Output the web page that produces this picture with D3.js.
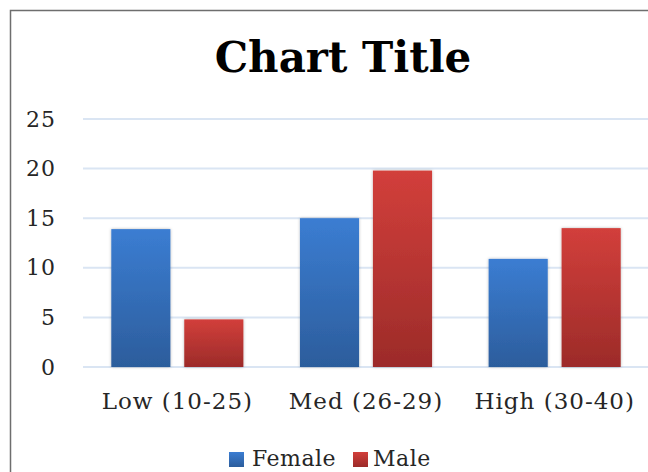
<!DOCTYPE html>
<html>
<head>
<meta charset="utf-8">
<script src="https://cdn.jsdelivr.net/npm/d3@7"></script>
<style>
  html, body { margin: 0; padding: 0; background: #fff; overflow: hidden; }
  svg { display: block; }
  text { font-family: "DejaVu Serif", serif; fill: #262626; }
</style>
</head>
<body>
<svg id="chart" width="648" height="472"></svg>
<script>
// Chart data
const categories = ["Low (10-25)", "Med (26-29)", "High (30-40)"];
const seriesNames = ["Female", "Male"];
const femaleValues = [13.9, 15, 10.9];
const maleValues = [4.8, 19.8, 14];
const yTicks = [0, 5, 10, 15, 20, 25];
const title = "Chart Title";

const seriesValues = { Female: femaleValues, Male: maleValues };
const rows = categories.map((c, i) => ({
  category: c,
  values: seriesNames.map(s => ({ series: s, value: seriesValues[s][i] }))
}));

const svg = d3.select("#chart");
const W = 648, H = 472;
const plot = { left: 83, right: 649, top: 119, bottom: 367 };

// Gradients for the bars
const defs = svg.append("defs");
const grads = {
  Female: ["#3b7dd2", "#2c5d9c"],
  Male: ["#d23f3b", "#9c2b29"]
};
Object.entries(grads).forEach(([k, [top, bot]]) => {
  const g = defs.append("linearGradient")
    .attr("id", "grad-" + k).attr("x1", 0).attr("y1", 0).attr("x2", 0).attr("y2", 1);
  g.append("stop").attr("offset", "0%").attr("stop-color", top);
  g.append("stop").attr("offset", "100%").attr("stop-color", bot);
});
const shadow = defs.append("filter").attr("id", "barShadow")
  .attr("x", "-20%").attr("y", "-5%").attr("width", "140%").attr("height", "110%");
shadow.append("feDropShadow").attr("dx", 0).attr("dy", 0).attr("stdDeviation", 1.6)
  .attr("flood-color", "#000").attr("flood-opacity", 0.28);

// Outer chart border
svg.append("rect")
  .attr("x", 10.5).attr("y", 10.5).attr("width", W + 20).attr("height", H + 20)
  .attr("fill", "#fff").attr("stroke", "#6e6e6e").attr("stroke-width", 1.5);

// Title
svg.append("text")
  .attr("x", 343).attr("y", 72)
  .attr("text-anchor", "middle")
  .style("font-size", "42px").style("font-weight", "bold")
  .style("fill", "#000")
  .text(title);

// Scales
const y = d3.scaleLinear().domain([0, 25]).range([plot.bottom, plot.top]);
const x0 = d3.scaleBand().domain(categories).range([plot.left, plot.right])
  .paddingInner(0.3).paddingOuter(0.15);
const x1 = d3.scaleBand().domain(seriesNames).range([0, x0.bandwidth()])
  .paddingInner(0.19).paddingOuter(0);

// Gridlines
svg.append("g")
  .selectAll("line").data(yTicks).join("line")
  .attr("x1", plot.left).attr("x2", W)
  .attr("y1", d => y(d)).attr("y2", d => y(d))
  .attr("stroke", "#dae5f3").attr("stroke-width", 2);

// Y axis labels
const yAxis = svg.append("g")
  .attr("transform", `translate(${plot.left - 27},0)`)
  .call(d3.axisLeft(y).tickValues(yTicks).tickSize(0).tickPadding(0));
yAxis.select(".domain").remove();
yAxis.selectAll("text")
  .style("font-family", "DejaVu Serif, serif")
  .style("font-size", "22px").style("letter-spacing", "1px").attr("fill", "#262626");

// Bars
const groups = svg.append("g").selectAll("g").data(rows).join("g")
  .attr("transform", d => `translate(${x0(d.category)},0)`);
groups.selectAll("rect").data(d => d.values).join("rect")
  .attr("x", d => x1(d.series))
  .attr("y", d => y(d.value))
  .attr("width", x1.bandwidth())
  .attr("height", d => y(0) - y(d.value))
  .attr("fill", d => `url(#grad-${d.series})`)
  .attr("filter", "url(#barShadow)");

// X axis labels
const xAxis = svg.append("g")
  .attr("transform", `translate(0,${plot.bottom + 14})`)
  .call(d3.axisBottom(x0).tickSize(0).tickPadding(12));
xAxis.select(".domain").remove();
xAxis.selectAll("text")
  .style("font-family", "DejaVu Serif, serif")
  .style("font-size", "23px").style("letter-spacing", "1px").attr("fill", "#262626");

// Legend
const legendItems = [
  { name: "Female", swatchX: 229, textX: 252 },
  { name: "Male", swatchX: 353, textX: 373 }
];
const legend = svg.append("g");
legendItems.forEach(it => {
  legend.append("rect")
    .attr("x", it.swatchX).attr("y", 452).attr("width", 15).attr("height", 15)
    .attr("fill", `url(#grad-${it.name})`);
  legend.append("text")
    .attr("x", it.textX).attr("y", 466)
    .style("font-size", "22px").style("letter-spacing", "0.5px")
    .text(it.name);
});
</script>
</body>
</html>
